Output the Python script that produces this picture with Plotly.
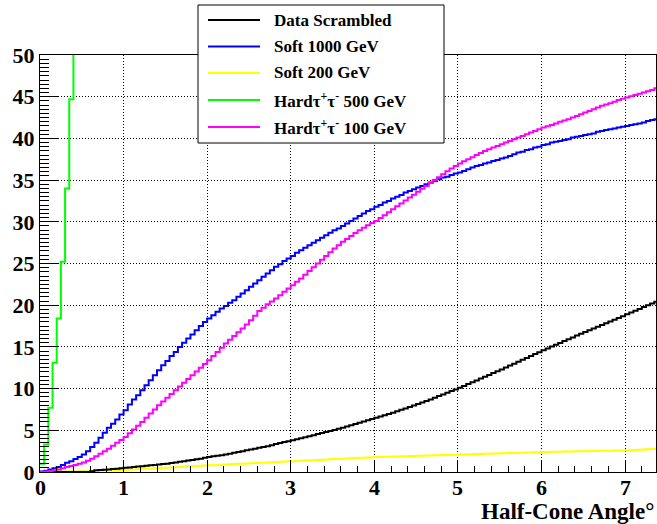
import numpy as np
import plotly.graph_objects as go

# Histogram binning in degrees
BIN_W = 0.05
X_MAX = 7.37

# Cumulative counts per 0.05-degree bin, starting at 0 deg
data_scrambled = [
    0, 0, 0, 0, 0, 0, 0, 0, 0, 0, 0, 0, 0.1, 0.2, 0.25, 0.28, 0.3, 0.35, 0.4, 0.45,
    0.5, 0.55, 0.6, 0.65, 0.7, 0.75, 0.8, 0.85, 0.9, 0.95, 1.0, 1.08, 1.15, 1.22, 1.3, 1.38, 1.45, 1.52, 1.6, 1.7,
    1.8, 1.88, 1.95, 2.02, 2.1, 2.2, 2.3, 2.4, 2.5, 2.6, 2.7, 2.8, 2.9, 3.0, 3.1, 3.22, 3.35, 3.48, 3.6, 3.7,
    3.8, 3.92, 4.05, 4.18, 4.3, 4.42, 4.55, 4.68, 4.8, 4.92, 5.05, 5.18, 5.3, 5.45, 5.6, 5.75, 5.9, 6.05, 6.2, 6.35,
    6.5, 6.65, 6.8, 6.95, 7.1, 7.28, 7.45, 7.62, 7.8, 7.98, 8.15, 8.32, 8.5, 8.7, 8.9, 9.1, 9.3, 9.5, 9.7, 9.9,
    10.1, 10.32, 10.54, 10.76, 10.98, 11.2, 11.42, 11.64, 11.86, 12.08, 12.3, 12.53, 12.76, 12.99, 13.22, 13.45, 13.68, 13.91, 14.14, 14.37,
    14.6, 14.82, 15.04, 15.26, 15.48, 15.7, 15.92, 16.14, 16.36, 16.58, 16.8, 17.01, 17.22, 17.43, 17.64, 17.85, 18.06, 18.27, 18.48, 18.69,
    18.9, 19.11, 19.33, 19.55, 19.77, 19.99, 20.2, 20.4,
]

soft_1000 = [
    0.05, 0.15, 0.3, 0.45, 0.6, 0.85, 1.1, 1.3, 1.55, 1.8, 2.1, 2.5, 3.0, 3.5, 4.1, 4.7, 5.3, 5.8, 6.3, 6.9,
    7.4, 8.1, 8.7, 9.2, 9.8, 10.4, 11.0, 11.6, 12.2, 12.8, 13.3, 13.9, 14.4, 15.0, 15.5, 16.0, 16.5, 17.0, 17.5, 18.0,
    18.4, 18.8, 19.2, 19.6, 19.9, 20.3, 20.6, 21.0, 21.4, 21.8, 22.2, 22.6, 23.0, 23.4, 23.8, 24.2, 24.6, 24.9, 25.3, 25.6,
    25.9, 26.3, 26.6, 26.9, 27.2, 27.5, 27.8, 28.1, 28.4, 28.7, 29.0, 29.2, 29.5, 29.8, 30.1, 30.4, 30.7, 31.0, 31.3, 31.5,
    31.8, 32.0, 32.3, 32.5, 32.8, 33.0, 33.2, 33.5, 33.7, 33.9, 34.1, 34.3, 34.5, 34.7, 34.9, 35.1, 35.3, 35.4, 35.6, 35.8,
    35.9, 36.1, 36.3, 36.5, 36.7, 36.8, 37.0, 37.1, 37.3, 37.4, 37.6, 37.7, 37.9, 38.1, 38.3, 38.4, 38.6, 38.7, 38.9, 39.0,
    39.2, 39.3, 39.5, 39.6, 39.7, 39.8, 39.9, 40.1, 40.2, 40.3, 40.4, 40.5, 40.6, 40.8, 40.9, 41.0, 41.1, 41.2, 41.3, 41.4,
    41.5, 41.6, 41.7, 41.8, 41.9, 42.1, 42.2, 42.3,
]

soft_200 = [
    0.01, 0.02, 0.03, 0.04, 0.05, 0.06, 0.07, 0.08, 0.09, 0.1, 0.11, 0.12, 0.14, 0.15, 0.17, 0.18, 0.2, 0.21, 0.23, 0.25,
    0.27, 0.3, 0.32, 0.35, 0.37, 0.4, 0.42, 0.45, 0.47, 0.5, 0.52, 0.55, 0.58, 0.6, 0.63, 0.66, 0.69, 0.72, 0.74, 0.77,
    0.8, 0.82, 0.85, 0.88, 0.9, 0.92, 0.95, 0.98, 1.0, 1.02, 1.05, 1.08, 1.1, 1.12, 1.15, 1.18, 1.2, 1.22, 1.25, 1.28,
    1.3, 1.32, 1.35, 1.38, 1.4, 1.42, 1.45, 1.48, 1.5, 1.52, 1.55, 1.58, 1.6, 1.62, 1.65, 1.68, 1.7, 1.72, 1.75, 1.78,
    1.8, 1.81, 1.83, 1.84, 1.86, 1.87, 1.89, 1.9, 1.92, 1.93, 1.95, 1.96, 1.98, 1.99, 2.01, 2.02, 2.04, 2.05, 2.07, 2.08,
    2.1, 2.11, 2.13, 2.14, 2.16, 2.17, 2.19, 2.2, 2.22, 2.23, 2.25, 2.26, 2.28, 2.29, 2.31, 2.32, 2.34, 2.35, 2.37, 2.38,
    2.4, 2.41, 2.42, 2.43, 2.44, 2.45, 2.46, 2.47, 2.48, 2.49, 2.5, 2.51, 2.52, 2.53, 2.54, 2.55, 2.56, 2.57, 2.58, 2.59,
    2.6, 2.62, 2.65, 2.67, 2.7, 2.72, 2.75, 2.8,
]

hard_500 = [1.0, 3.3, 7.7, 13.1, 18.4, 25.2, 34.0, 44.7, 55.0]

hard_100 = [
    0.02, 0.05, 0.1, 0.2, 0.3, 0.45, 0.6, 0.72, 0.85, 1.0, 1.15, 1.35, 1.6, 1.9, 2.2, 2.5, 2.8, 3.15, 3.5, 3.85,
    4.2, 4.65, 5.1, 5.55, 6.0, 6.5, 7.0, 7.5, 8.0, 8.45, 8.9, 9.35, 9.8, 10.25, 10.7, 11.15, 11.6, 12.05, 12.5, 12.95,
    13.4, 13.9, 14.4, 14.9, 15.4, 15.85, 16.3, 16.75, 17.2, 17.7, 18.2, 18.75, 19.3, 19.7, 20.1, 20.45, 20.8, 21.2, 21.6, 22.0,
    22.4, 22.8, 23.2, 23.65, 24.1, 24.55, 25.0, 25.45, 25.9, 26.35, 26.8, 27.2, 27.6, 27.95, 28.3, 28.65, 29.0, 29.3, 29.6, 29.85,
    30.1, 30.45, 30.8, 31.15, 31.5, 31.85, 32.2, 32.55, 32.9, 33.25, 33.6, 33.95, 34.3, 34.65, 35.0, 35.35, 35.7, 36.05, 36.4, 36.7,
    37.0, 37.25, 37.5, 37.75, 38.0, 38.25, 38.5, 38.7, 38.9, 39.1, 39.3, 39.5, 39.7, 39.9, 40.1, 40.3, 40.5, 40.7, 40.9, 41.1,
    41.3, 41.45, 41.6, 41.8, 42.0, 42.15, 42.3, 42.5, 42.7, 42.9, 43.1, 43.3, 43.5, 43.7, 43.9, 44.05, 44.2, 44.4, 44.6, 44.75,
    44.9, 45.05, 45.2, 45.35, 45.5, 45.65, 45.8, 46.0,
]

# Axis tick labels
x_ticks = [0, 1, 2, 3, 4, 5, 6, 7]
y_ticks = [0, 5, 10, 15, 20, 25, 30, 35, 40, 45, 50]

series = [
    ("Data Scrambled", data_scrambled, "#000000"),
    ("Soft 1000 GeV", soft_1000, "#0000ff"),
    ("Soft 200 GeV", soft_200, "#ffff00"),
    ("Hard\u03c4<sup>+</sup>\u03c4<sup>-</sup> 500 GeV", hard_500, "#00ff00"),
    ("Hard\u03c4<sup>+</sup>\u03c4<sup>-</sup> 100 GeV", hard_100, "#ff00ff"),
]

SERIF = "Liberation Serif"

fig = go.Figure()

# Step histograms: bin edges with the last value repeated to close the final bin
draw_order = [2, 0, 1, 4, 3]
for idx in draw_order:
    name, vals, color = series[idx]
    edges = np.arange(len(vals) + 1) * BIN_W
    yv = list(vals) + [vals[-1]]
    fig.add_trace(go.Scatter(
        x=edges, y=yv, mode="lines", line=dict(color=color, width=2, shape="hv"),
        name=name, showlegend=False, hoverinfo="skip",
    ))

W, H = 657, 524
L, R, T, B = 40, 1, 55, 52

axis_font = dict(family=SERIF, size=22, color="black")
GRID_DASH = "1px,2px"

fig.update_xaxes(
    range=[0, X_MAX],
    tickvals=x_ticks, showticklabels=False,
    showline=True, linecolor="black", linewidth=1, mirror=True,
    ticks="inside", ticklen=12, tickcolor="black", tickwidth=1,
    minor=dict(dtick=0.2, tick0=0, ticks="inside", ticklen=6, tickcolor="black", showgrid=False),
    showgrid=True, gridcolor="black", griddash=GRID_DASH, gridwidth=1,
    zeroline=False,
)
fig.update_yaxes(
    range=[0, 50],
    tickvals=y_ticks, ticktext=[f"<b>{v}</b>" for v in y_ticks],
    showline=True, linecolor="black", linewidth=1, mirror=True,
    ticks="inside", ticklen=18, tickcolor="black", tickwidth=1,
    minor=dict(dtick=0.5, tick0=0, ticks="inside", ticklen=9, tickcolor="black", showgrid=False),
    showgrid=True, gridcolor="black", griddash=GRID_DASH, gridwidth=1,
    zeroline=False, tickfont=axis_font,
)

pw = W - L - R
ph = H - T - B


def px_x(p):
    return (p - L) / pw


def px_y(p):
    return (H - B - p) / ph


shapes = []
annotations = []

# x tick labels placed tight under the axis
for v in x_ticks:
    annotations.append(dict(
        xref="x", yref="paper", x=v, y=px_y(487),
        xanchor="center", yanchor="middle", text=f"<b>{v}</b>", showarrow=False,
        font=axis_font,
    ))

# Legend box drawn over the frame
shapes.append(dict(
    type="rect", xref="paper", yref="paper",
    x0=px_x(198), x1=px_x(444), y0=px_y(143), y1=px_y(5),
    line=dict(color="black", width=1), fillcolor="white", layer="above",
))
entry_y = [20, 46.5, 73, 100, 127]
for (name, _, color), ey in zip(series, entry_y):
    shapes.append(dict(
        type="line", xref="paper", yref="paper",
        x0=px_x(208), x1=px_x(260), y0=px_y(ey), y1=px_y(ey),
        line=dict(color=color, width=2), layer="above",
    ))
    annotations.append(dict(
        xref="paper", yref="paper", x=px_x(272), y=px_y(ey),
        xanchor="left", yanchor="middle", text=f"<b>{name}</b>", showarrow=False,
        font=dict(family=SERIF, size=17, color="black"),
    ))

# Axis title, right aligned under the x axis
annotations.append(dict(
    xref="paper", yref="paper", x=1.0, y=px_y(511),
    xanchor="right", yanchor="middle", text="<b>Half-Cone Angle\u00b0</b>", showarrow=False,
    font=dict(family=SERIF, size=23, color="black"),
))

fig.update_layout(
    width=W, height=H,
    margin=dict(l=L, r=R, t=T, b=B),
    paper_bgcolor="white", plot_bgcolor="white",
    shapes=shapes, annotations=annotations,
    showlegend=False,
)

fig.write_html("out.html")
